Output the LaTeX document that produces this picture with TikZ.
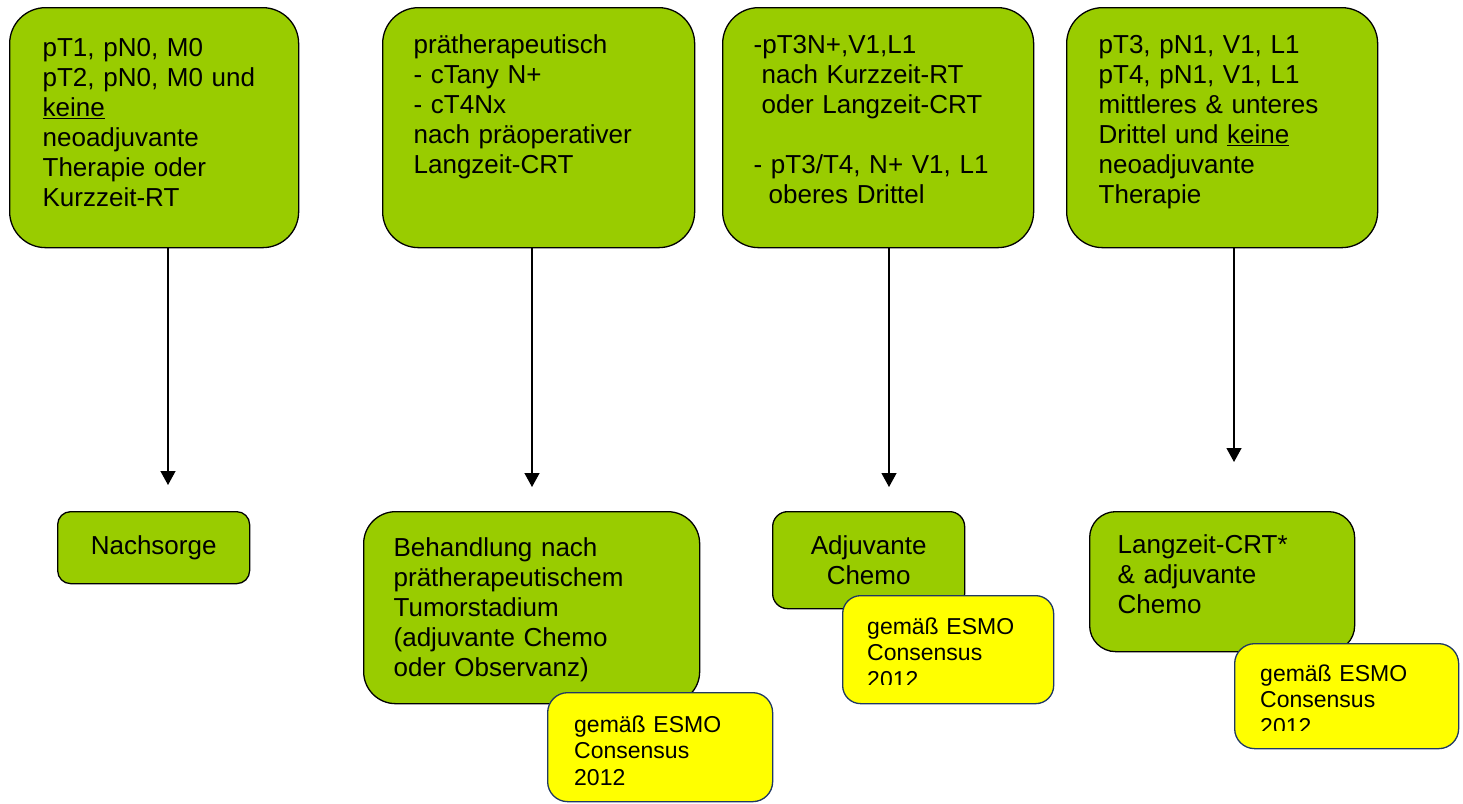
\documentclass[tikz,border=0pt]{standalone}
\usepackage{fontspec}
\setmainfont{Liberation Sans}
\usetikzlibrary{arrows.meta,positioning,calc}
\definecolor{LeafGreen}{HTML}{99CC00}
\definecolor{NoteYellow}{HTML}{FFFF00}
\definecolor{NoteBlue}{HTML}{1F3864}
\newcommand{\stagefont}{\fontsize{26}{30}\selectfont}
\newcommand{\notefont}{\fontsize{23}{26.5}\selectfont}

\begin{document}
\begin{tikzpicture}[x=1pt, y=-1pt, >={Triangle[width=15pt,length=14pt]},
  every node/.style={inner sep=0pt, font=\stagefont},
  stagebox/.style={draw, line width=1.3pt, fill=LeafGreen, anchor=north west, align=left},
  esmobox/.style={draw=NoteBlue, line width=1.3pt, fill=NoteYellow, anchor=north west},
  esmolabel/.style={font=\notefont, align=left, anchor=base west}]
  \useasboundingbox (0,0) rectangle (1463,803);

  % findings
  \node[stagebox, rounded corners=36pt, inner xsep=33pt, text width=223pt, text height=49pt, text depth=191pt] (stageA) at (9,7) {pT1, pN0, M0\\pT2, pN0, M0 und\\\underline{keine}\\neoadjuvante\\Therapie oder\\Kurzzeit-RT};
  \node[stagebox, rounded corners=36pt, inner xsep=31pt, text width=250pt, text height=46pt, text depth=194pt] (stageB) at (382,7) {prätherapeutisch\\- cTany N+\\- cT4Nx\\nach präoperativer\\Langzeit-CRT};
  \node[stagebox, rounded corners=36pt, inner xsep=31pt, text width=249pt, text height=46pt, text depth=194pt] (stageC) at (722,7) {-pT3N+,V1,L1\\\hspace*{8pt}nach Kurzzeit-RT\\\hspace*{8pt}oder Langzeit-CRT\\[30pt]- pT3/T4, N+ V1, L1\\\hspace*{15pt}oberes Drittel};
  \node[stagebox, rounded corners=36pt, inner xsep=32pt, text width=247pt, text height=46pt, text depth=194pt] (stageD) at (1066,7) {pT3, pN1, V1, L1\\pT4, pN1, V1, L1\\mittleres \& unteres\\Drittel und \underline{keine}\\neoadjuvante\\Therapie};

  % arrows
  \coordinate (tipA) at (168,485);
  \coordinate (tipB) at (532,487);
  \coordinate (tipC) at (889,487);
  \coordinate (tipD) at (1234,462);
  \draw[->, line width=1.3pt] (stageA.south -| tipA) -- (tipA);
  \draw[->, line width=1.3pt] (stageB.south -| tipB) -- (tipB);
  \draw[->, line width=1.3pt] (stageC.south -| tipC) -- (tipC);
  \draw[->, line width=1.3pt] (stageD.south -| tipD) -- (tipD);

  % therapy
  \node[stagebox, rounded corners=13pt, minimum width=192pt, minimum height=72pt, align=center] (followup) at (57,511) {Nachsorge};
  \node[stagebox, rounded corners=32pt, inner xsep=30pt, text width=276pt, text height=45pt, text depth=147pt] (pretherapy) at (363,511) {Behandlung nach\\prätherapeutischem\\Tumorstadium\\(adjuvante Chemo\\oder Observanz)};
  \node[stagebox, rounded corners=15pt, minimum width=192pt, minimum height=97pt, align=center] (adjuvant) at (772,511) {Adjuvante\\Chemo};
  \node[stagebox, rounded corners=26pt, inner xsep=28pt, text width=209pt, text height=42pt, text depth=98pt] (longcrt) at (1089,511) {Langzeit-CRT*\\\& adjuvante\\Chemo};

  % ESMO notes
  \node[esmobox, rounded corners=20pt, minimum width=225pt, minimum height=109pt] (esmoB) at (547,692) {};
  \node[esmolabel, text width=171pt] (esmoBtext) at (574,732) {gemäß ESMO\\Consensus\\2012};
  \node[esmobox, rounded corners=18pt, minimum width=211pt, minimum height=108pt] (esmoC) at (842,595) {};
  \begin{scope}
    \clip (842,595) rectangle (1053,684);
    \node[esmolabel, text width=161pt] (esmoCtext) at (867,634) {gemäß ESMO\\Consensus\\2012};
  \end{scope}
  \node[esmobox, rounded corners=20pt, minimum width=224pt, minimum height=105pt] (esmoD) at (1234,643) {};
  \begin{scope}
    \clip (1234,643) rectangle (1458,730);
    \node[esmolabel, text width=172pt] (esmoDtext) at (1260,681) {gemäß ESMO\\Consensus\\2012};
  \end{scope}
\end{tikzpicture}
\end{document}
